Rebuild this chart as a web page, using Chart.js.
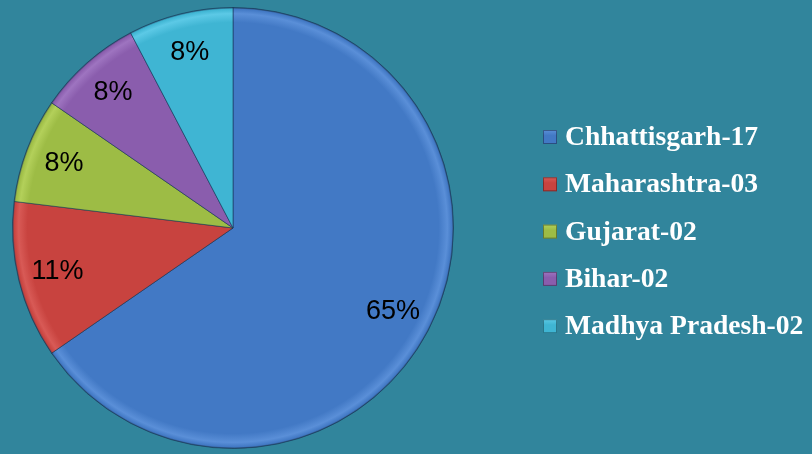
<!DOCTYPE html>
<html>
<head>
<meta charset="utf-8">
<script src="https://cdn.jsdelivr.net/npm/chart.js@4"></script>
<style>
  html, body { margin: 0; padding: 0; background: #31859c; }
  #wrap { width: 812px; height: 454px; position: relative; }
</style>
</head>
<body>
<div id="wrap"><canvas id="pieChart"></canvas></div>
<script>
const states = ["Chhattisgarh-17", "Maharashtra-03", "Gujarat-02", "Bihar-02", "Madhya Pradesh-02"];
const counts = [17, 3, 2, 2, 2];
const percentLabels = ["65%", "11%", "8%", "8%", "8%"];
const sliceColors = ["#4279c5", "#c8433f", "#9dbc45", "#8a5dad", "#3fb5d3"];
const rimColors = ["#5a8fd8", "#d85a56", "#b3d05a", "#9e74c0", "#5cc9e6"];

// bevel-ish fill: flat centre, light rim, dark edge
function sliceFill(c) {
    const chart = c.chart;
    const area = chart.chartArea;
    if (!area) return sliceColors[c.dataIndex];
    const cx = (area.left + area.right) / 2;
    const cy = (area.top + area.bottom) / 2;
    const r = Math.min(area.right - area.left, area.bottom - area.top) / 2;
    const g = chart.ctx.createRadialGradient(cx, cy, 0, cx, cy, r);
    const col = sliceColors[c.dataIndex];
    g.addColorStop(0, col);
    g.addColorStop(0.93, col);
    g.addColorStop(0.97, rimColors[c.dataIndex]);
    g.addColorStop(0.99, col);
    g.addColorStop(1, "#23405e");
    return g;
}

// percent labels inside each slice
const sliceLabels = {
    id: "sliceLabels",
    afterDatasetsDraw(chart) {
        const ctx = chart.ctx;
        const meta = chart.getDatasetMeta(0);
        ctx.save();
        ctx.font = "27px 'Liberation Sans'";
        ctx.fillStyle = "#000";
        ctx.textAlign = "center";
        ctx.textBaseline = "middle";
        meta.data.forEach((arc, i) => {
            const p = arc.getProps(["x", "y", "startAngle", "endAngle", "outerRadius"], true);
            const mid = (p.startAngle + p.endAngle) / 2;
            const r = p.outerRadius * 0.82;
            ctx.fillText(percentLabels[i], p.x + Math.cos(mid) * r, p.y + Math.sin(mid) * r);
        });
        ctx.restore();
    }
};

// legend on the right
const sideLegend = {
    id: "sideLegend",
    afterDraw(chart) {
        const ctx = chart.ctx;
        ctx.save();
        ctx.font = "bold 27.6px 'Liberation Serif'";
        ctx.textBaseline = "middle";
        states.forEach((s, i) => {
            const y = 137 + i * 47.3;
            const g = ctx.createLinearGradient(0, y - 7, 0, y + 7);
            g.addColorStop(0, rimColors[i]);
            g.addColorStop(0.4, sliceColors[i]);
            g.addColorStop(1, sliceColors[i]);
            ctx.fillStyle = g;
            ctx.fillRect(543, y - 7, 14, 14);
            ctx.strokeStyle = "rgba(0,0,0,0.35)";
            ctx.lineWidth = 1;
            ctx.strokeRect(543.5, y - 6.5, 13, 13);
            ctx.fillStyle = "#ffffff";
            ctx.fillText(s, 565, y + 1);
        });
        ctx.restore();
    }
};

const ctx = document.getElementById("pieChart").getContext("2d");
new Chart(ctx, {
    type: "pie",
    data: {
        labels: states,
        datasets: [{
            data: counts,
            backgroundColor: sliceFill,
            borderColor: "rgba(20,50,80,0.55)",
            borderWidth: 1
        }]
    },
    options: {
        responsive: true,
        maintainAspectRatio: false,
        animation: false,
        layout: {
            padding: { left: 12, right: 358, top: 7, bottom: 5 }
        },
        plugins: {
            legend: { display: false },
            tooltip: { enabled: false }
        }
    },
    plugins: [sliceLabels, sideLegend]
});
</script>
</body>
</html>
